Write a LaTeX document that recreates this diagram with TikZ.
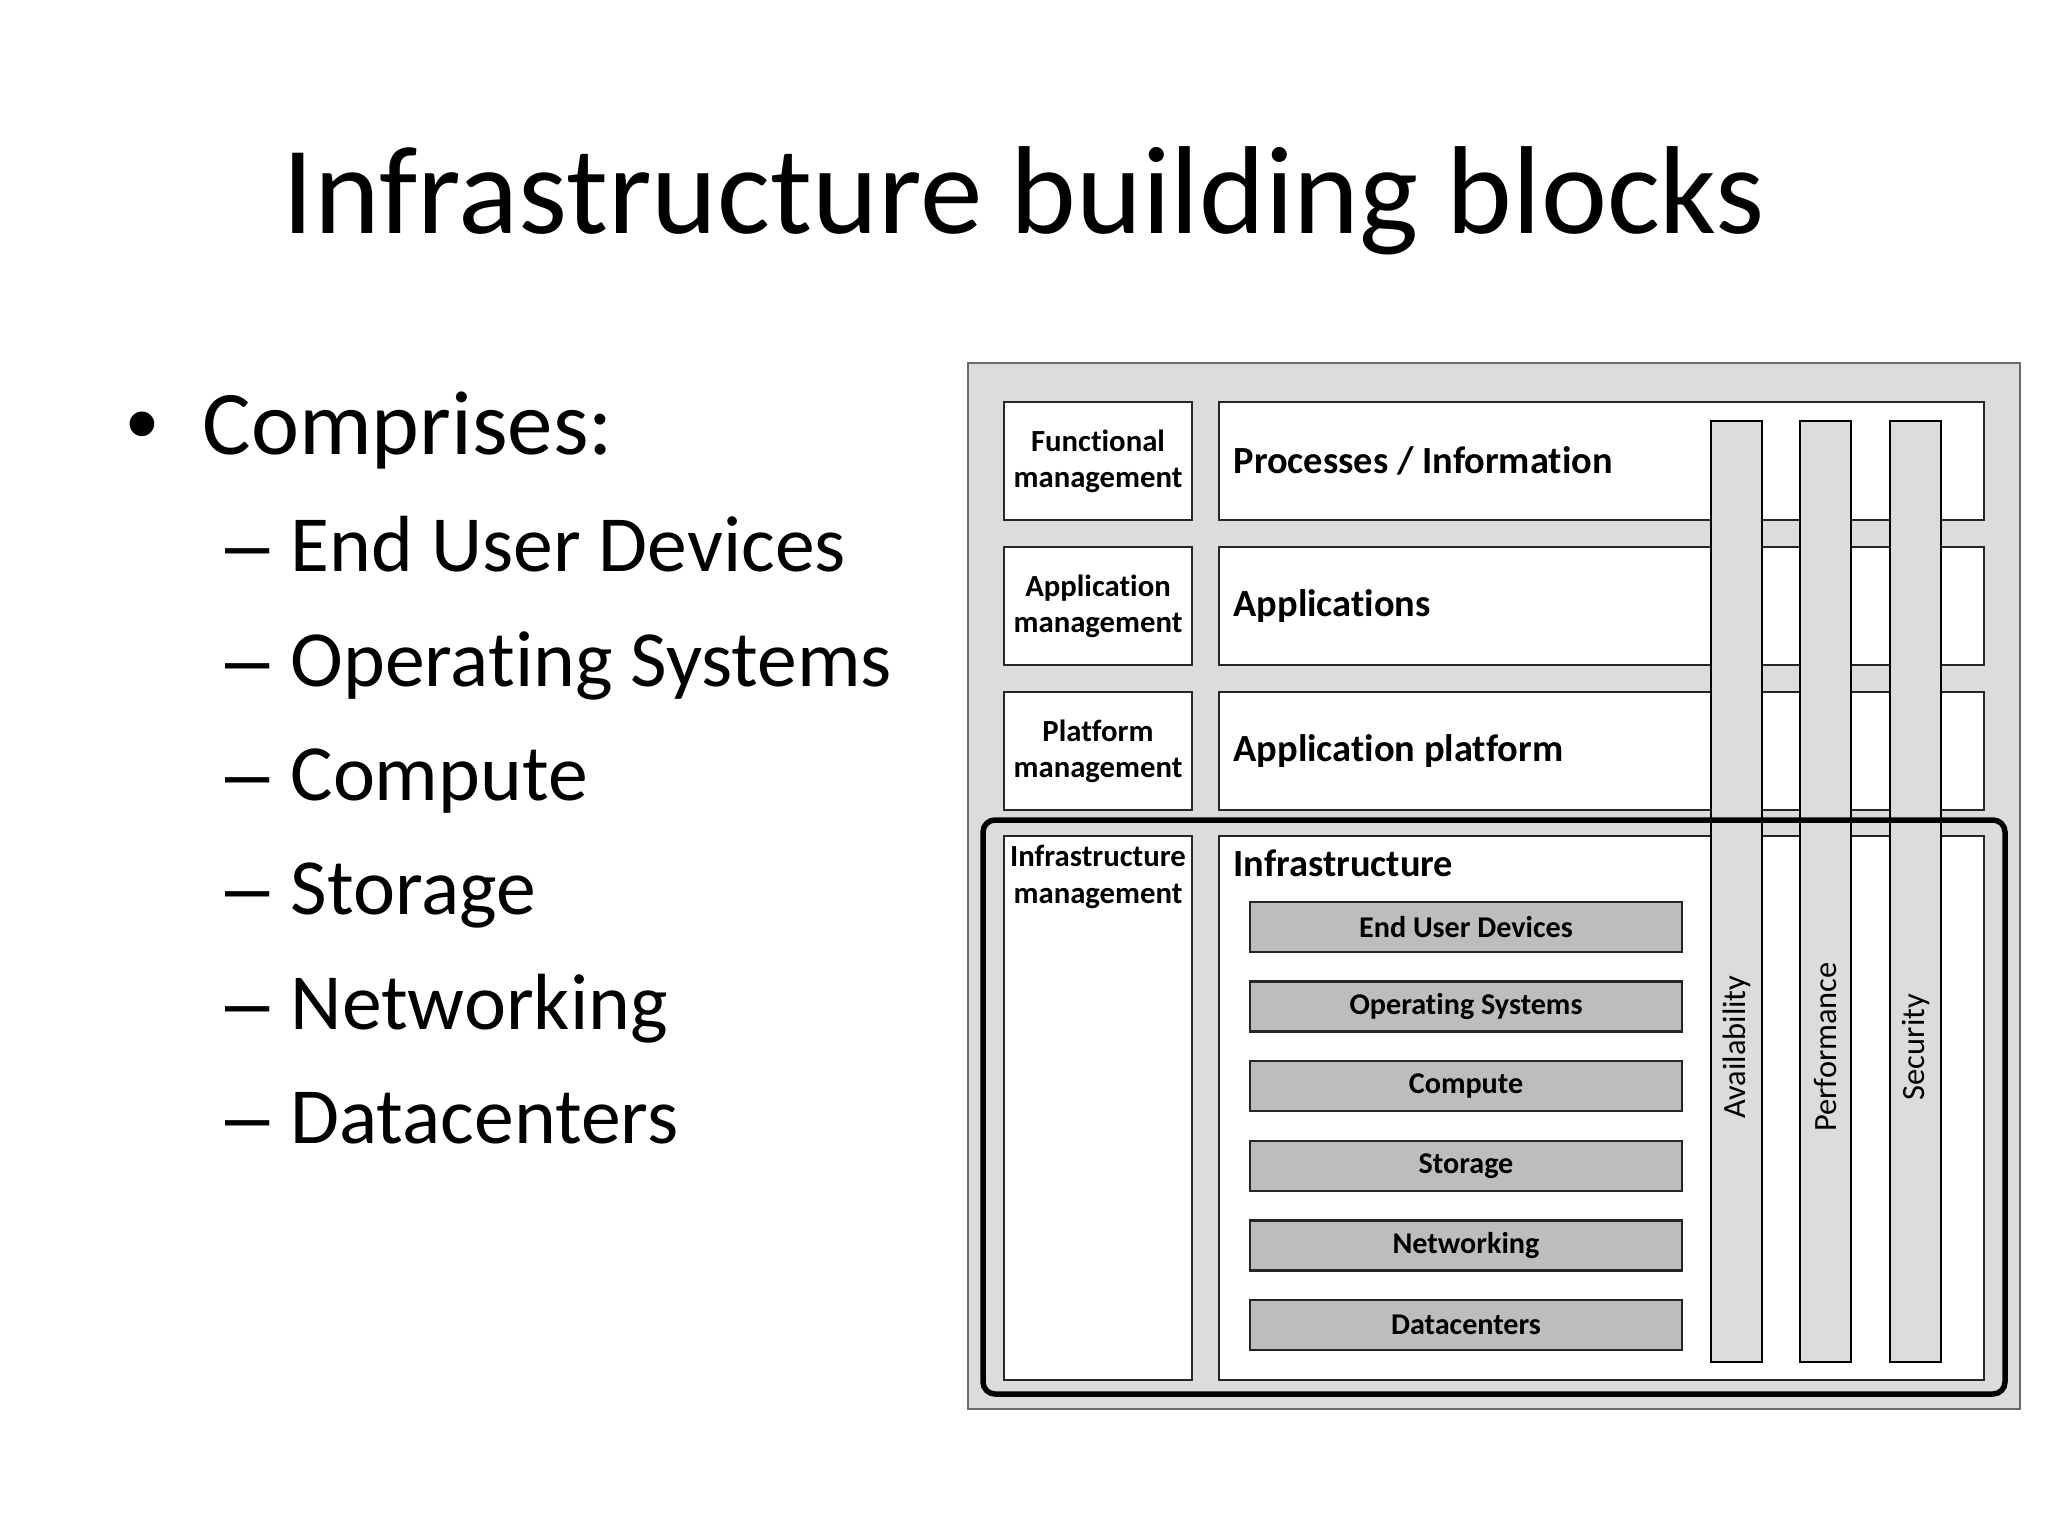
\documentclass[tikz,border=0pt]{standalone}
\usepackage{fontspec}
\setmainfont{Carlito}[Ligatures=NoCommon]
\newfontfamily\arialfont{Liberation Sans}
\newdimen\pxu \pxu=0.3515625pt
\definecolor{lightg}{HTML}{DCDCDC}
\definecolor{midg}{HTML}{BDBDBD}
\definecolor{edgec}{HTML}{262626}
\definecolor{outerc}{HTML}{6A6A6A}
\tikzset{
  outerbox/.style={draw=outerc, line width=2.5\pxu, fill=lightg},
  whitebox/.style={draw=edgec, line width=2.4\pxu, fill=white},
  barbox/.style={draw=edgec, line width=2.4\pxu, fill=midg},
  pillarbox/.style={draw=black, line width=2.2\pxu, fill=lightg},
  groupline/.style={draw=black, line width=5.5\pxu, rounded corners=12\pxu},
  mgmt/.style={align=center, inner sep=0, font=\bfseries\fontsize{10.8}{12.7}\selectfont},
  layer/.style={anchor=west, inner sep=0, font=\bfseries\fontsize{13.5}{16}\selectfont},
  barlabel/.style={inner sep=0, font=\bfseries\fontsize{10.6}{12.7}\selectfont},
  pillarlabel/.style={rotate=90, inner sep=0, font=\fontsize{11.4}{13}\selectfont},
  titletext/.style={anchor=base, inner sep=0, font=\fontsize{44}{52}\selectfont},
  lvlone/.style={anchor=base west, inner sep=0, font=\fontsize{32}{38}\selectfont},
  lvltwo/.style={anchor=base west, inner sep=0, font=\fontsize{28}{34}\selectfont},
  marker/.style={anchor=base west, inner sep=0, font=\arialfont}
}
\begin{document}
\begin{tikzpicture}[x=0.3515625pt, y=-0.3515625pt]
\useasboundingbox (0,0) rectangle (2048,1536);

% title
\node[titletext] (title) at (1024,234) {Infrastructure building blocks};

% bullet list
\node[marker, font=\arialfont\fontsize{32}{38}\selectfont] (bul) at (126,455) {•};
\node[lvlone] (comp) at (202,455) {Comprises:};
\foreach \t [count=\i from 0] in {End User Devices,Operating Systems,Compute,Storage,Networking,Datacenters}{
  \node[marker, font=\arialfont\fontsize{28}{34}\selectfont] (dash\i) at (225,{572+114.3*\i}) {–};
  \node[lvltwo] (item\i) at (290,{572+114.3*\i}) {\t};
}

% diagram outer box
\path[outerbox] (968,363) rectangle (2020,1409);

% upper rows
\path[whitebox] (1004,402) rectangle (1192,520);
\path[whitebox] (1219,402) rectangle (1984,520);
\path[whitebox] (1004,547) rectangle (1192,665);
\path[whitebox] (1219,547) rectangle (1984,665);
\path[whitebox] (1004,692) rectangle (1192,810);
\path[whitebox] (1219,692) rectangle (1984,810);
% infrastructure row
\path[whitebox] (1004,836) rectangle (1192,1380);
\path[whitebox] (1219,836) rectangle (1984,1380);

\node[mgmt] (fm) at (1098,461) {Functional\\management};
\node[mgmt] (am) at (1098,606) {Application\\management};
\node[mgmt] (pm) at (1098,751) {Platform\\management};
\node[mgmt, anchor=north] (im) at (1098,845) {Infrastructure\\management};

\node[layer] (proc) at (1233,461) {Processes / Information};
\node[layer] (apps) at (1233,606) {Applications};
\node[layer] (aplat) at (1233,751) {Application platform};
\node[layer] (infra) at (1233,863) {Infrastructure};

% infrastructure building block bars
\foreach \t [count=\i from 0] in {End User Devices,Operating Systems,Compute,Storage,Networking,Datacenters}{
  \path[barbox] (1250,{902+79.6*\i}) rectangle (1682,{952+79.6*\i});
  \node[barlabel] (bar\i) at (1466,{927+79.6*\i}) {\t};
}

% vertical pillars
\path[pillarbox] (1711,421) rectangle (1762,1362);
\path[pillarbox] (1800,421) rectangle (1851,1362);
\path[pillarbox] (1890,421) rectangle (1941,1362);
\node[pillarlabel] (avail) at (1736.5,1047) {Availability};
\node[pillarlabel] (perf) at (1825.5,1047) {Performance};
\node[pillarlabel] (sec) at (1915.5,1047) {Security};

% thick group outline around infrastructure
\path[groupline] (983,820) rectangle (2005,1394);
\end{tikzpicture}
\end{document}
